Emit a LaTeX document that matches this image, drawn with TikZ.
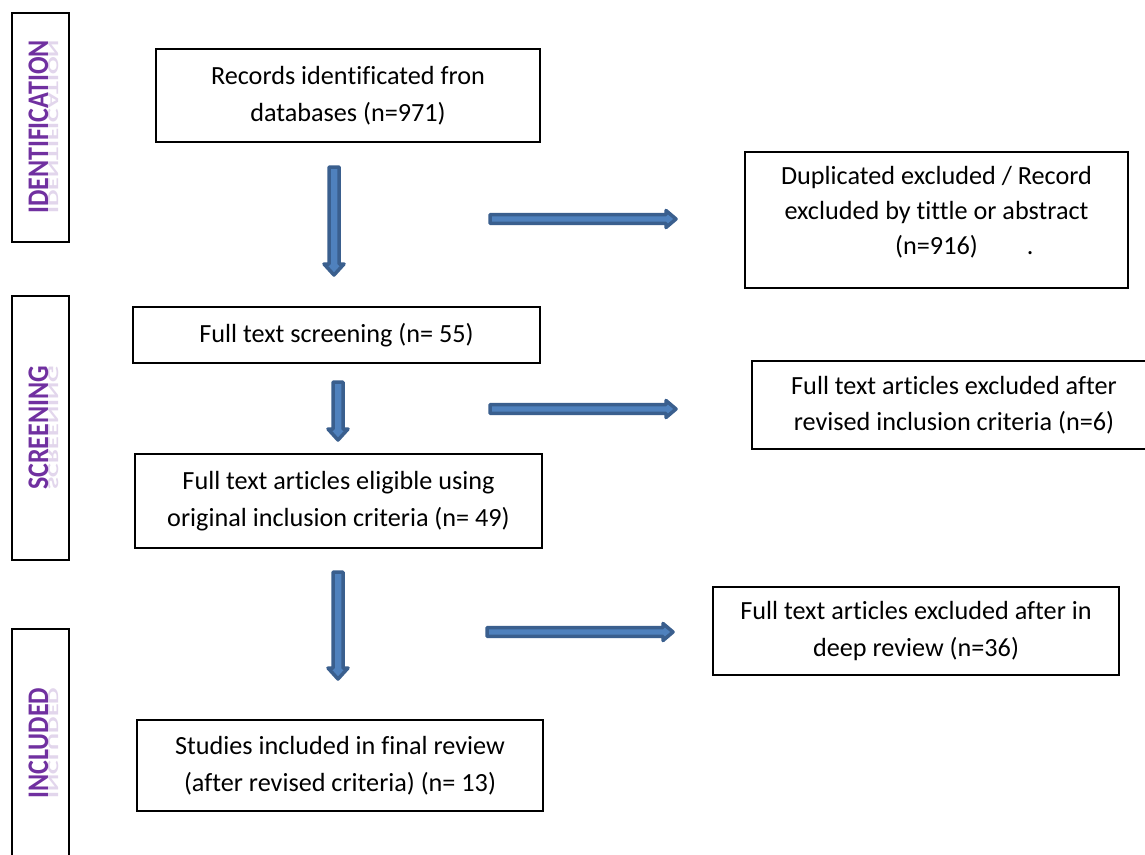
\documentclass[tikz,border=0pt]{standalone}
\usepackage{fontspec}
\setmainfont{Carlito}[Ligatures={NoCommon}]
\usetikzlibrary{calc}
\definecolor{arrfill}{HTML}{4F81BD}
\definecolor{arrline}{HTML}{3A5F8E}
\definecolor{lblpurple}{HTML}{7030A0}
\newcommand{\downarr}[2]{\path[fat] let \p1=(#1),\p2=(#2) in
  (\x1-5,\y1) -- (\x1+5,\y1) -- (\x1+5,\y2+11) -- (\x1+10,\y2+11) -- (\x1,\y2)
  -- (\x1-10,\y2+11) -- (\x1-5,\y2+11) -- cycle;}
\newcommand{\rightarr}[2]{\path[fat] let \p1=(#1),\p2=(#2) in
  (\x1,\y1+4.3) -- (\x2-10,\y1+4.3) -- (\x2-10,\y1+8.5) -- (\x2,\y1)
  -- (\x2-10,\y1-8.5) -- (\x2-10,\y1-4.3) -- (\x1,\y1-4.3) -- cycle;}
\tikzset{
  box/.style={draw=black, line width=1.8pt, inner sep=0pt, align=center,
    font=\fontsize{26.2}{36.5}\selectfont},
  txt/.style={inner sep=0pt, align=center, font=\fontsize{26.2}{35}\selectfont},
  fat/.style={fill=arrfill, draw=arrline, line width=3.5pt, line join=round},
  sidebox/.style={draw=black, line width=1.8pt, minimum width=57pt, inner sep=0pt},
  sidelbl/.style={text=lblpurple, font=\bfseries\fontsize{26}{26}\selectfont,
    inner sep=0pt, rotate=90, yscale=1.15, transform shape, anchor=base},
  sidergl/.style={text=lblpurple!20, font=\bfseries\fontsize{26}{26}\selectfont,
    inner sep=0pt, rotate=90, yscale=-0.6, transform shape, anchor=base},
}
\begin{document}
\begin{tikzpicture}[x=1pt, y=-1pt]
\clip (0,0) rectangle (1145,854);
\fill[white] (0,0) rectangle (1145,854);

% side boxes
\node[sidebox, minimum height=229pt] (s1) at (40.5,127.5) {};
\node[sidebox, minimum height=264pt] (s2) at (40.5,428) {};
\node[sidebox, minimum height=271pt] (s3) at (40.5,764.5) {};
\node[sidergl] (r1) at (48,127) {IDENTIFICATION};
\node[sidelbl] (l1) at (48,127) {IDENTIFICATION};
\node[sidergl] (r2) at (48,428) {SCREENING};
\node[sidelbl] (l2) at (48,428) {SCREENING};
\node[sidergl] (r3) at (48,743) {INCLUDED};
\node[sidelbl] (l3) at (48,743) {INCLUDED};

% main boxes
\node[box, minimum width=384pt, minimum height=93pt] (b1) at (348,95.5)
  {Records identificated fron\\databases (n=971)};
\node[box, minimum width=383pt, minimum height=136pt] (b2) at (936.5,220) {};
\node[txt] (t2) at (936.5,212)
  {Duplicated excluded / Record\\excluded by tittle or abstract\\(n=916)\rlap{\hspace{49pt}.}};
\node[box, minimum width=407pt, minimum height=56pt] (b3) at (336.5,335)
  {Full text screening (n=~55)};
\node[box, minimum width=404pt, minimum height=88pt] (b4) at (954,405)
  {Full text articles excluded after\\revised inclusion criteria (n=6)};
\node[box, minimum width=407pt, minimum height=94pt] (b5) at (338.5,501)
  {Full text articles eligible using\\original inclusion criteria (n=~49)};
\node[box, minimum width=406pt, minimum height=88pt] (b6) at (916,631)
  {Full text articles excluded after in\\deep review (n=36)};
\node[box, minimum width=406pt, minimum height=91pt] (b7) at (340,765.5)
  {Studies included in final review\\(after revised criteria) (n=~13)};

% arrows
\coordinate (d1s) at (334,167);  \coordinate (d1e) at (334,275);
\coordinate (d2s) at (338,382);  \coordinate (d2e) at (338,440);
\coordinate (d3s) at (338,572);  \coordinate (d3e) at (338,679);
\coordinate (h1s) at (490,219);  \coordinate (h1e) at (676,219);
\coordinate (h2s) at (490,409);  \coordinate (h2e) at (676,409);
\coordinate (h3s) at (487,632);  \coordinate (h3e) at (673,632);
\downarr{d1s}{d1e}
\downarr{d2s}{d2e}
\downarr{d3s}{d3e}
\rightarr{h1s}{h1e}
\rightarr{h2s}{h2e}
\rightarr{h3s}{h3e}
\end{tikzpicture}
\end{document}
